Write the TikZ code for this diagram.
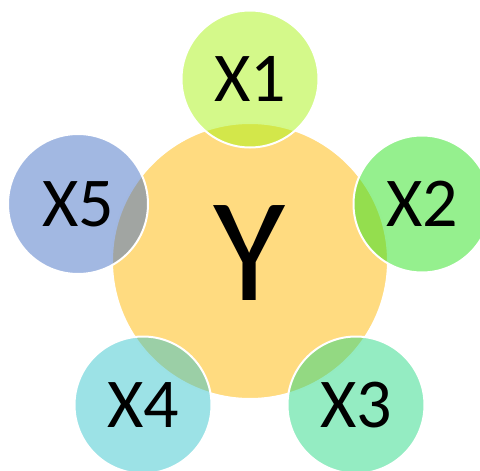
\documentclass[tikz,border=0pt]{standalone}
\usepackage{fontspec}
\setmainfont{Carlito}
\definecolor{ycol}{RGB}{255,219,128}
\definecolor{xonecol}{RGB}{169,243,21}
\definecolor{xtwocol}{RGB}{43,225,29}
\definecolor{xthreecol}{RGB}{41,217,133}
\definecolor{xfourcol}{RGB}{57,197,205}
\definecolor{xfivecol}{RGB}{69,113,197}
\begin{document}
\begin{tikzpicture}[x=1pt,y=-1pt,
  sat/.style={circle,draw=white,line width=2pt,fill opacity=0.5,draw opacity=1,text opacity=1,minimum size=137pt,inner sep=0pt,font=\fontsize{70}{70}\selectfont},
  hub/.style={circle,draw=white,line width=2pt,fill=ycol,minimum size=276pt,inner sep=0pt}]
\path[use as bounding box] (0,0) rectangle (480,471);
\clip (0,0) rectangle (480,471);
\node[hub] (y) at (250,261) {};
\node[font=\fontsize{148}{148}\selectfont,inner sep=0pt] (ytext) at (250,253) {Y};
\node[sat,fill=xonecol] (x1) at (250,79) {X1};
\node[sat,fill=xtwocol] (x2) at (422,204) {X2};
\node[sat,fill=xthreecol] (x3) at (356,405) {X3};
\node[sat,fill=xfourcol] (x4) at (143,405) {X4};
\node[sat,fill=xfivecol,minimum size=140pt] (x5) at (78,204) {X5};
\end{tikzpicture}
\end{document}
